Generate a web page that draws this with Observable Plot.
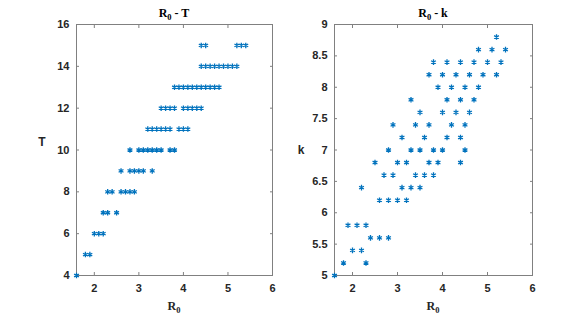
<!DOCTYPE html>
<html>
<head>
<meta charset="utf-8">
<script src="https://cdn.jsdelivr.net/npm/d3@7"></script>
<script src="https://cdn.jsdelivr.net/npm/@observablehq/plot@0.6"></script>
<style>
  html, body { margin: 0; padding: 0; background: #fff; }
  #fig { position: relative; width: 587px; height: 318px; }
  #fig svg { position: absolute; top: 0; }
</style>
</head>
<body>
<div id="fig"></div>
<script>
// ---- Data: left panel (R0 vs T) ----
const rtR0 = [
  1.6,
  1.8, 1.9,
  2.0, 2.1, 2.2,
  2.2, 2.3, 2.5,
  2.3, 2.4, 2.6, 2.7, 2.8, 2.9,
  2.6, 2.8, 2.9, 3.0, 3.1, 3.3,
  2.8, 3.0, 3.1, 3.2, 3.3, 3.4, 3.5, 3.7, 3.8,
  3.2, 3.3, 3.4, 3.5, 3.6, 3.7, 3.9, 4.0, 4.1,
  3.5, 3.6, 3.7, 3.8, 4.0, 4.1, 4.2, 4.3, 4.4,
  3.8, 3.9, 4.0, 4.1, 4.2, 4.3, 4.4, 4.5, 4.6, 4.7, 4.8,
  4.4, 4.5, 4.6, 4.7, 4.8, 4.9, 5.0, 5.1, 5.2,
  4.4, 4.5, 5.2, 5.3, 5.4
];
const rtT = [
  4,
  5, 5,
  6, 6, 6,
  7, 7, 7,
  8, 8, 8, 8, 8, 8,
  9, 9, 9, 9, 9, 9,
  10, 10, 10, 10, 10, 10, 10, 10, 10,
  11, 11, 11, 11, 11, 11, 11, 11, 11,
  12, 12, 12, 12, 12, 12, 12, 12, 12,
  13, 13, 13, 13, 13, 13, 13, 13, 13, 13, 13,
  14, 14, 14, 14, 14, 14, 14, 14, 14,
  15, 15, 15, 15, 15
];

// ---- Data: right panel (R0 vs k) ----
const rkR0 = [
  1.6,
  1.8, 2.3,
  2.0, 2.2,
  2.4, 2.6, 2.8,
  1.9, 2.1, 2.3,
  2.6, 2.8, 3.0, 3.2,
  2.2, 3.1, 3.3, 3.5,
  2.7, 2.9, 3.4, 3.6, 3.8,
  2.5, 3.0, 3.2, 3.7, 3.9, 4.4,
  2.8, 3.3, 3.5, 3.8, 4.0, 4.5,
  3.1, 3.6, 4.1, 4.4,
  2.9, 3.4, 3.7, 4.2, 4.5,
  3.5, 4.0, 4.3, 4.6,
  3.3, 4.1, 4.4, 4.7,
  3.9, 4.2, 4.5, 4.8,
  3.7, 4.0, 4.3, 4.6, 4.9, 5.2,
  3.8, 4.1, 4.4, 4.7, 5.0, 5.3,
  4.8, 5.1, 5.4,
  5.2
];
const rkK = [
  5.0,
  5.2, 5.2,
  5.4, 5.4,
  5.6, 5.6, 5.6,
  5.8, 5.8, 5.8,
  6.2, 6.2, 6.2, 6.2,
  6.4, 6.4, 6.4, 6.4,
  6.6, 6.6, 6.6, 6.6, 6.6,
  6.8, 6.8, 6.8, 6.8, 6.8, 6.8,
  7.0, 7.0, 7.0, 7.0, 7.0, 7.0,
  7.2, 7.2, 7.2, 7.2,
  7.4, 7.4, 7.4, 7.4, 7.4,
  7.6, 7.6, 7.6, 7.6,
  7.8, 7.8, 7.8, 7.8,
  8.0, 8.0, 8.0, 8.0,
  8.2, 8.2, 8.2, 8.2, 8.2, 8.2,
  8.4, 8.4, 8.4, 8.4, 8.4, 8.4,
  8.6, 8.6, 8.6,
  8.8
];

// ---- Tick labels / domains ----
const xDomain = [1.6, 6];
const xTicks = [2, 3, 4, 5, 6];
const tDomain = [4, 16];
const tTicks = [4, 6, 8, 10, 12, 14, 16];
const kDomain = [5, 9];
const kTicks = [5, 5.5, 6, 6.5, 7, 7.5, 8, 8.5, 9];

const BLUE = "#0072BD";
const AX = "#262626";
const FRAME = "#808080";
const SANS = "'Liberation Sans', Arial, Helvetica, sans-serif";
const SERIF = "'Liberation Serif', 'Times New Roman', serif";

function panel({xs, ys, yDomain, yTicks, width, ml, mr, title, ylab, ylabX, ylabY}) {
  const data = xs.map((x, i) => ({x, y: ys[i]}));
  const fmt = d => String(d);
  const plot = Plot.plot({
    width, height: 318,
    marginLeft: ml, marginRight: mr, marginTop: 24, marginBottom: 43,
    style: {fontFamily: SANS, fontSize: "11px", fontWeight: "bold", color: AX, background: "transparent", overflow: "visible"},
    x: {domain: xDomain},
    y: {domain: yDomain},
    marks: [
      Plot.frame({stroke: FRAME, strokeWidth: 1}),
      Plot.axisX({ticks: xTicks, tickSize: 0, tickPadding: 9, tickFormat: fmt, label: null, anchor: "bottom"}),
      Plot.axisX({ticks: xTicks, tickSize: -3, text: null, label: null, anchor: "bottom", stroke: FRAME}),
      Plot.axisX({ticks: xTicks, tickSize: -3, text: null, label: null, anchor: "top", stroke: FRAME}),
      Plot.axisY({ticks: yTicks, tickSize: 0, tickPadding: 7, tickFormat: fmt, label: null, anchor: "left"}),
      Plot.axisY({ticks: yTicks, tickSize: -3, text: null, label: null, anchor: "left", stroke: FRAME}),
      Plot.axisY({ticks: yTicks, tickSize: -3, text: null, label: null, anchor: "right", stroke: FRAME}),
      Plot.dot(data, {x: "x", y: "y", symbol: "asterisk", r: 2.6, stroke: BLUE, strokeWidth: 1.3})
    ]
  });
  const svg = d3.select(plot);
  const cx = (ml + width - mr) / 2;
  // Title with subscript
  const t = svg.append("text")
    .attr("x", cx).attr("y", 17)
    .attr("text-anchor", "middle")
    .style("font-family", SERIF).style("font-size", "12px").style("font-weight", "bold").attr("fill", "#000");
  t.append("tspan").text("R");
  t.append("tspan").text("0").attr("dy", 3).style("font-size", "8.5px");
  t.append("tspan").text(" - " + title).attr("dy", -3);
  // x label
  const xl = svg.append("text")
    .attr("x", cx).attr("y", 310)
    .attr("text-anchor", "middle")
    .style("font-family", SERIF).style("font-size", "12px").style("font-weight", "bold").attr("fill", AX);
  xl.append("tspan").text("R");
  xl.append("tspan").text("0").attr("dy", 3).style("font-size", "8.5px");
  // y label
  svg.append("text")
    .attr("x", ylabX).attr("y", ylabY)
    .attr("text-anchor", "middle").attr("dominant-baseline", "middle")
    .style("font-family", SANS).style("font-size", "12px").style("font-weight", "bold").attr("fill", AX)
    .text(ylab);
  return plot;
}

const fig = document.getElementById("fig");
const left = panel({xs: rtR0, ys: rtT, yDomain: tDomain, yTicks: tTicks, width: 293, ml: 76, mr: 21, title: "T", ylab: "T", ylabX: 42, ylabY: 143});
left.style.left = "0px";
fig.appendChild(left);
const right = panel({xs: rkR0, ys: rkK, yDomain: kDomain, yTicks: kTicks, width: 294, ml: 41, mr: 55, title: "k", ylab: "k", ylabX: 8, ylabY: 151});
right.style.left = "293px";
fig.appendChild(right);
</script>
</body>
</html>
